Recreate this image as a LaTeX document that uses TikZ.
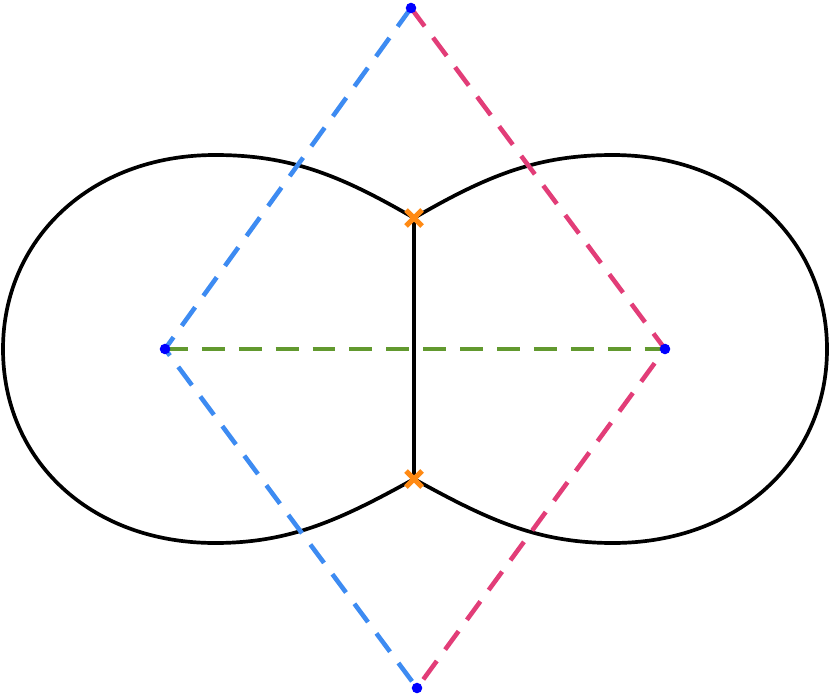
\documentclass[tikz,border=0pt]{standalone}
\usetikzlibrary{calc}
\definecolor{blueln}{HTML}{3D8BF2}
\definecolor{pinkln}{HTML}{E23D78}
\definecolor{greenln}{HTML}{62992F}
\definecolor{orangex}{HTML}{FF8A14}
\tikzset{
  dashln/.style={line width=2.6pt, dash pattern=on 13pt off 8pt},
  lobe/.style={line width=2.1pt, black},
  dot/.style={circle, fill=blue, inner sep=0pt, minimum size=6pt},
  cross/.style={orangex, line width=3pt}
}
\begin{document}
\begin{tikzpicture}[x=0.02cm, y=-0.02cm]
	\useasboundingbox (0,0) rectangle (830,696);
	\coordinate (top) at (411,8);
	\coordinate (bot) at (417,688);
	\coordinate (lf) at (165,349);
	\coordinate (rt) at (665,349);
	\coordinate (xa) at (414,218);
	\coordinate (xb) at (414,479);
	%
	\draw[lobe] (xa) .. controls (340,175) and (290,155) .. (215,155)
		.. controls (90,155) and (3,240) .. (3,349)
		.. controls (3,460) and (90,543) .. (215,543)
		.. controls (290,543) and (340,520) .. (xb);
	\draw[lobe] (xa) .. controls (488,175) and (538,155) .. (613,155)
		.. controls (738,155) and (827,240) .. (827,349)
		.. controls (827,460) and (738,543) .. (613,543)
		.. controls (538,543) and (488,520) .. (xb);
	\draw[lobe] (xa) -- (xb);
	%
	\draw[dashln, blueln] (top) -- (lf) -- (bot);
	\draw[dashln, pinkln] (top) -- (rt) -- (bot);
	\draw[dashln, greenln] (lf) -- (rt);
	%
	\foreach \p in {top,bot,lf,rt} \node[dot] at (\p) {};
	\foreach \p in {xa,xb} {
		\draw[cross] ($(\p)+(-8,-8)$) -- ($(\p)+(8,8)$);
		\draw[cross] ($(\p)+(-8,8)$) -- ($(\p)+(8,-8)$);
	}
\end{tikzpicture}
\end{document}
